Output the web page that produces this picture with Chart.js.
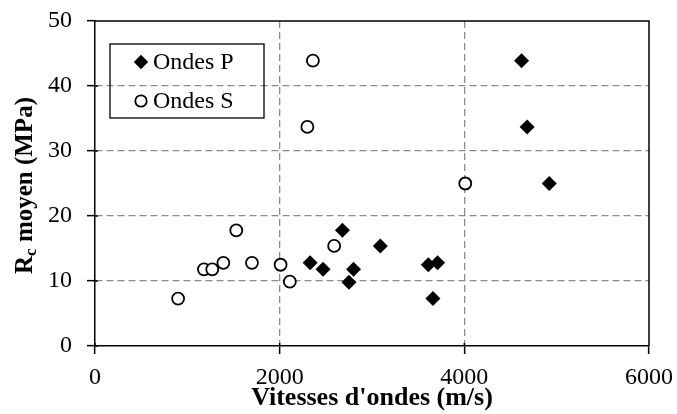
<!DOCTYPE html>
<html>
<head>
<meta charset="utf-8">
<title>Rc moyen vs vitesses d'ondes</title>
<script src="https://cdn.jsdelivr.net/npm/chart.js@4.4.1/dist/chart.umd.min.js"></script>
<style>
  html, body { margin:0; padding:0; background:#fff; }
  #wrap { width:677px; height:414px; }
</style>
</head>
<body>
<div id="wrap"><canvas id="c" width="677" height="414"></canvas></div>
<script>
  // values
  const ondesP_x = [4620, 4680, 4920, 3610, 3710, 3660, 2680, 2330, 2470, 2750, 2800, 3090];
  const ondesP_y = [43.9, 33.7, 25.0, 12.5, 12.8, 7.3, 17.8, 12.8, 11.8, 9.8, 11.8, 15.4];
  const ondesS_x = [2360, 2300, 4010, 2010, 1700, 900, 1530, 1390, 2110, 1180, 1270, 2590];
  const ondesS_y = [43.9, 33.7, 25.0, 12.5, 12.8, 7.3, 17.8, 12.8, 9.9, 11.8, 11.8, 15.4];
  const seriesLabels = ['Ondes P', 'Ondes S'];
  const xTicks = [0, 2000, 4000, 6000];
  const yTicks = [0, 10, 20, 30, 40, 50];
  const xTitle = "Vitesses d'ondes (m/s)";
  const yTitle = ['R', 'c', ' moyen (MPa)'];

  const FONT = '"Liberation Serif", "Times New Roman", serif';

  function pts(xs, ys){ return xs.map((x, i) => ({ x: x, y: ys[i] })); }

  Chart.defaults.color = '#000';
  Chart.defaults.font.family = FONT;

  function gridColor(min, max){
    return function(c){
      const v = c.tick ? c.tick.value : null;
      return (v === min || v === max) ? 'rgba(0,0,0,0)' : '#8c8c8c';
    };
  }

  // frame, inner tick stubs, y title (with subscript) and the boxed legend
  const decor = {
    id: 'decor',
    afterDraw(chart){
      const ctx = chart.ctx, a = chart.chartArea;
      const sx = chart.scales.x, sy = chart.scales.y;
      ctx.save();
      ctx.strokeStyle = '#000';
      ctx.lineWidth = 1.5;
      ctx.beginPath();
      ctx.moveTo(a.left, a.top); ctx.lineTo(a.right, a.top); ctx.lineTo(a.right, a.bottom);
      // ticks cross the axis a little
      xTicks.forEach(v => { const px = sx.getPixelForValue(v); ctx.moveTo(px, a.bottom); ctx.lineTo(px, a.bottom - 3); });
      yTicks.forEach(v => { const py = sy.getPixelForValue(v); ctx.moveTo(a.left, py); ctx.lineTo(a.left + 3, py); });
      ctx.stroke();

      // y title
      ctx.translate(26, (a.top + a.bottom) / 2 + 2);
      ctx.rotate(-Math.PI / 2);
      ctx.fillStyle = '#000';
      ctx.textBaseline = 'middle';
      const big = 'bold 25px ' + FONT, small = 'bold 17px ' + FONT;
      ctx.font = big; const w0 = ctx.measureText(yTitle[0]).width; const w2 = ctx.measureText(yTitle[2]).width;
      ctx.font = small; const w1 = ctx.measureText(yTitle[1]).width;
      let x = -(w0 + w1 + w2) / 2;
      ctx.font = big; ctx.textAlign = 'left'; ctx.fillText(yTitle[0], x, 0); x += w0;
      ctx.font = small; ctx.fillText(yTitle[1], x, 6); x += w1;
      ctx.font = big; ctx.fillText(yTitle[2], x, 0);
      ctx.restore();

      // legend box
      ctx.save();
      ctx.strokeStyle = '#000';
      ctx.lineWidth = 1.3;
      ctx.strokeRect(110, 44, 154, 74);
      ctx.font = '24px ' + FONT;
      ctx.fillStyle = '#000';
      ctx.textBaseline = 'middle';
      ctx.textAlign = 'left';
      chart.data.datasets.forEach((ds, i) => {
        const cy = 62 + i * 39;
        ctx.save();
        ctx.fillStyle = ds.backgroundColor;
        ctx.strokeStyle = ds.borderColor;
        ctx.lineWidth = ds.borderWidth;
        Chart.helpers.drawPoint(ctx, { pointStyle: ds.pointStyle, radius: ds.pointRadius - 0.3, borderWidth: ds.borderWidth }, 141, cy);
        ctx.restore();
        ctx.fillText(ds.label, 153, cy + 1);
      });
      ctx.restore();
    }
  };

  new Chart(document.getElementById('c'), {
    type: 'scatter',
    data: {
      datasets: [
        { label: seriesLabels[0], data: pts(ondesP_x, ondesP_y), pointStyle: 'rectRot', pointRadius: 7.5,
          backgroundColor: '#000', borderColor: '#000', borderWidth: 0 },
        { label: seriesLabels[1], data: pts(ondesS_x, ondesS_y), pointStyle: 'circle', pointRadius: 6,
          backgroundColor: '#fff', borderColor: '#000', borderWidth: 1.8 }
      ]
    },
    options: {
      responsive: false,
      animation: false,
      devicePixelRatio: 1,
      layout: { padding: { left: 0, right: 28, top: 21, bottom: 0 } },
      plugins: { legend: { display: false }, tooltip: { enabled: false } },
      scales: {
        x: {
          type: 'linear', min: 0, max: 6000,
          afterBuildTicks(s){ s.ticks = xTicks.map(v => ({ value: v })); },
          // fixed size, no extra padding from the end labels
          afterFit(s){ s.height = 68; s.paddingLeft = 0; s.paddingRight = 0; },
          ticks: { font: { size: 24 }, padding: 9, maxRotation: 0, callback: v => String(v) },
          grid: { color: gridColor(0, 6000), lineWidth: 1.3, tickColor: '#000', tickLength: 8, tickWidth: 1.5 },
          border: { color: '#000', width: 1.5, dash: [7, 4] },
          title: { display: true, text: xTitle, font: { size: 26, weight: 'bold' }, padding: { top: 0, bottom: 0 } }
        },
        y: {
          type: 'linear', min: 0, max: 50,
          afterBuildTicks(s){ s.ticks = yTicks.map(v => ({ value: v })); },
          afterFit(s){ s.width = 95; s.paddingTop = 0; s.paddingBottom = 0; },
          ticks: { font: { size: 24 }, padding: 15, callback: v => String(v) },
          grid: { color: gridColor(0, 50), lineWidth: 1.3, tickColor: '#000', tickLength: 8, tickWidth: 1.5 },
          border: { color: '#000', width: 1.5, dash: [7, 4] }
        }
      }
    },
    plugins: [decor]
  });
</script>
</body>
</html>
